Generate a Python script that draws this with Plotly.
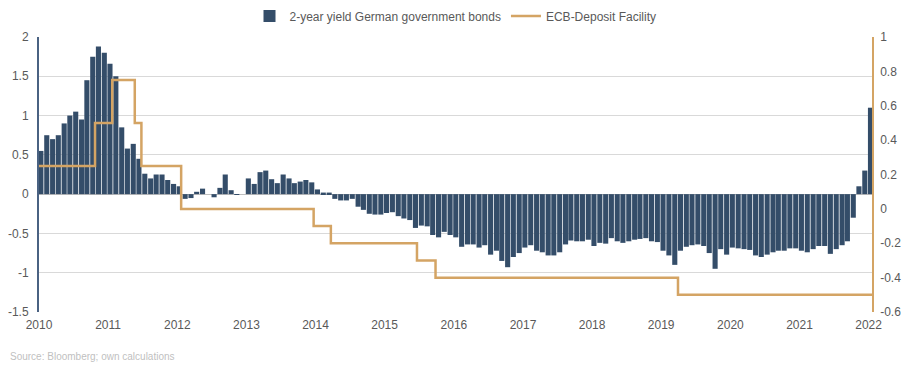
import plotly.graph_objects as go
import pandas as pd

# Monthly 2-year German government bond yield (%), Jul 2010 .. Jul 2022
yield_start = "2010-07-01"
yield_2y = [
    0.55, 0.75, 0.70, 0.75, 0.90, 1.00, 1.05, 0.95, 1.45, 1.75, 1.88, 1.80,
    1.66, 1.50, 0.85, 0.58, 0.64, 0.45, 0.26, 0.20, 0.25, 0.25, 0.18, 0.13,
    0.10, -0.06, -0.05, 0.03, 0.07, 0.00, -0.04, 0.08, 0.25, 0.05, -0.01, 0.00,
    0.20, 0.13, 0.28, 0.30, 0.19, 0.14, 0.25, 0.20, 0.14, 0.16, 0.18, 0.15,
    0.06, 0.02, 0.02, -0.06, -0.08, -0.08, -0.06, -0.16, -0.20, -0.25, -0.26, -0.26,
    -0.24, -0.23, -0.28, -0.31, -0.33, -0.43, -0.40, -0.41, -0.52, -0.55, -0.48, -0.52,
    -0.55, -0.67, -0.64, -0.64, -0.68, -0.65, -0.77, -0.72, -0.85, -0.93, -0.80, -0.75,
    -0.68, -0.65, -0.72, -0.74, -0.78, -0.78, -0.74, -0.64, -0.59, -0.60, -0.60, -0.58,
    -0.66, -0.62, -0.63, -0.56, -0.60, -0.62, -0.60, -0.58, -0.57, -0.56, -0.60, -0.61,
    -0.72, -0.78, -0.90, -0.72, -0.67, -0.65, -0.64, -0.66, -0.75, -0.95, -0.70, -0.77,
    -0.68, -0.69, -0.70, -0.71, -0.78, -0.80, -0.77, -0.74, -0.72, -0.72, -0.69, -0.69,
    -0.72, -0.74, -0.70, -0.66, -0.66, -0.76, -0.70, -0.65, -0.60, -0.30, 0.10, 0.30,
    1.10,
]
yield_dates = pd.date_range(yield_start, periods=len(yield_2y), freq="MS")

# ECB deposit facility rate (%), step changes
ecb_dates = ["2010-06-21", "2011-04-13", "2011-07-13", "2011-11-09", "2011-12-14",
             "2012-07-11", "2014-06-11", "2014-09-10", "2015-12-09", "2016-03-16",
             "2019-09-18", "2022-07-09"]
ecb_rate = [0.25, 0.50, 0.75, 0.50, 0.25, 0.00, -0.10, -0.20, -0.30, -0.40, -0.50, -0.50]

# Axis tick labels
x_tick_dates = [f"{y}-06-21" for y in range(2010, 2023)]
x_tick_labels = [str(y) for y in range(2010, 2023)]
left_ticks = [-1.5, -1, -0.5, 0, 0.5, 1, 1.5, 2]
left_labels = ["-1.5", "-1", "-0.5", "0", "0.5", "1", "1.5", "2"]
right_ticks = [-0.6, -0.4, -0.2, 0, 0.2, 0.4, 0.6, 0.8, 1]
right_labels = ["-0.6", "-0.4", "-0.2", "0", "0.2", "0.4", "0.6", "0.8", "1"]

NAVY = "#344d69"
TAN = "#d4a464"
FONT = "Liberation Sans, Arial, sans-serif"

# page has an 8px body margin -> figure is 895x356 so that it fills 911x372
W, H = 895, 356
L, R, T, B = 31, 31, 29, 52
PW, PH = W - L - R, H - T - B

fig = go.Figure()
fig.add_trace(go.Bar(
    x=yield_dates, y=yield_2y, name="2-year yield German government bonds",
    marker=dict(color=NAVY, line=dict(width=0)),
    width=27 * 86400000, yaxis="y",
))
fig.add_trace(go.Scatter(
    x=ecb_dates, y=ecb_rate, name="ECB-Deposit Facility", mode="lines",
    line=dict(color=TAN, width=2.5, shape="hv"), yaxis="y2",
))

fig.update_layout(
    width=W, height=H,
    margin=dict(l=L, r=R, t=T, b=B, autoexpand=False),
    paper_bgcolor="white", plot_bgcolor="white",
    font=dict(family=FONT, size=12, color="#595959"),
    showlegend=True,
    legend=dict(orientation="h", x=0.5, xanchor="center", y=1 - 8 / H,
                yanchor="middle", yref="container", xref="container",
                font=dict(size=12, color="#595959"), itemwidth=30,
                traceorder="normal"),
    xaxis=dict(type="date", range=["2010-06-21", "2022-07-09"],
               tickvals=x_tick_dates, ticktext=x_tick_labels,
               showgrid=False, showline=False, zeroline=False, ticks="",
               automargin=False, ticklabelstandoff=4),
    yaxis=dict(range=[-1.5, 2], tickvals=left_ticks, ticktext=left_labels,
               showgrid=True, gridcolor="#d9d9d9", gridwidth=1,
               zeroline=True, zerolinecolor="#bfbfbf", zerolinewidth=1,
               showline=True, linecolor="#4a6282", linewidth=2, ticks="",
               automargin=False, ticklabelstandoff=6),
    yaxis2=dict(range=[-0.6, 1], tickvals=right_ticks, ticktext=right_labels,
                overlaying="y", side="right", showgrid=False, zeroline=False,
                showline=True, linecolor=TAN, linewidth=1.5, ticks="",
                automargin=False, ticklabelstandoff=4),
    annotations=[dict(text="Source: Bloomberg; own calculations", xref="paper",
                      yref="paper", x=-L / PW, y=-(348 - (H - B)) / PH,
                      xanchor="left", yanchor="middle", showarrow=False,
                      font=dict(size=10, color="#bfbfbf"))],
)
fig.write_html("out.html")
